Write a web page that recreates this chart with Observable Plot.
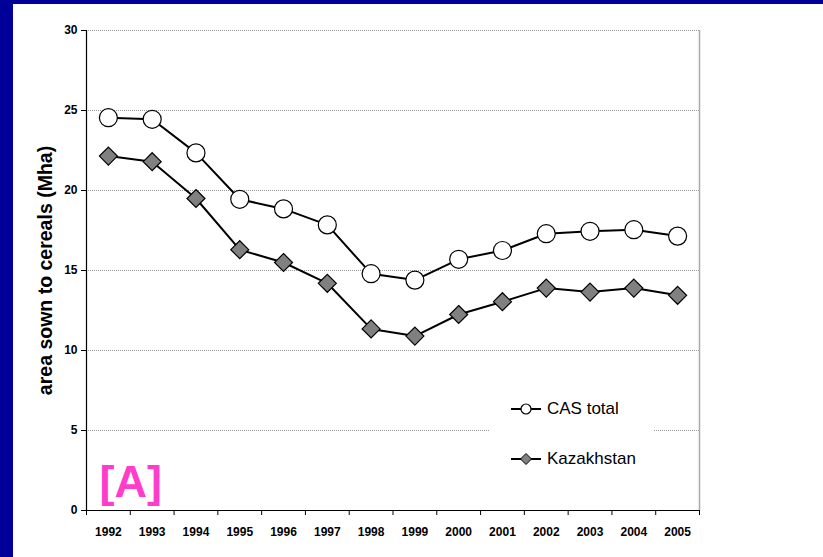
<!DOCTYPE html>
<html><head><meta charset="utf-8">
<script src="https://cdn.jsdelivr.net/npm/d3@7"></script>
<script src="https://cdn.jsdelivr.net/npm/@observablehq/plot@0.6"></script>
<style>
html,body{margin:0;padding:0;width:823px;height:557px;overflow:hidden;background:#000099;}
#wrap{position:absolute;left:13px;top:4px;width:810px;height:553px;background:#fff;}
#legend{position:absolute;left:477px;top:384px;width:164px;height:92px;background:#fff;
 font-family:"Liberation Sans Narrow","Arial Narrow","Liberation Sans",sans-serif;font-size:17px;color:#000;}
.item{position:absolute;left:21px;height:20px;display:flex;align-items:center;}
.item span{margin-left:6px;}
</style></head>
<body><div id="wrap"></div>
<script>
const years = [1992,1993,1994,1995,1996,1997,1998,1999,2000,2001,2002,2003,2004,2005];
const casTotal = [24.55,24.45,22.35,19.45,18.85,17.85,14.8,14.4,15.7,16.25,17.3,17.45,17.55,17.15];
const kazakhstan = [22.15,21.8,19.5,16.3,15.5,14.2,11.35,10.9,12.25,13.05,13.9,13.65,13.9,13.45];
const yTicks = [0,5,10,15,20,25,30];
const seriesNames = ["CAS total","Kazakhstan"];

const cas = years.map((y,i)=>({year:y, value:casTotal[i]}));
const kaz = years.map((y,i)=>({year:y, value:kazakhstan[i]}));
const bounds = years.concat([2006]).map(y=>y-0.5);
const narrow = '"Liberation Sans Narrow","Arial Narrow","Liberation Sans",sans-serif';

const chart = Plot.plot({
  width: 810, height: 553,
  marginLeft: 73, marginRight: 124, marginTop: 26, marginBottom: 47,
  style: {fontFamily: narrow, fontSize: "12px", fontWeight: "bold", background: "#fff", color: "#000"},
  x: {type: "linear", domain: [1991.5, 2005.5]},
  y: {domain: [0, 30]},
  marks: [
    Plot.ruleY(yTicks.filter(d=>d>0), {stroke: "#999", strokeDasharray: "1,1", strokeWidth: 1}),
    Plot.ruleX([2005.5], {stroke: "#aaa", strokeWidth: 1.5}),
    Plot.ruleX([1991.5], {stroke: "#000", strokeWidth: 1.2}),
    Plot.ruleY([0], {stroke: "#000", strokeWidth: 1.2}),
    Plot.axisY({ticks: yTicks, tickSize: 5, tickPadding: 4, label: null, fontSize: 12}),
    Plot.axisX({ticks: bounds, tickSize: 5, tickFormat: () => "", label: null}),
    Plot.axisX({ticks: years, tickSize: 0, tickPadding: 17, tickFormat: d => String(d), label: null, fontSize: 12}),
    Plot.line(cas, {x: "year", y: "value", stroke: "#000", strokeWidth: 2}),
    Plot.line(kaz, {x: "year", y: "value", stroke: "#000", strokeWidth: 2}),
    Plot.dot(cas, {x: "year", y: "value", r: 9, fill: "#fff", stroke: "#000", strokeWidth: 1.2}),
    Plot.dot(kaz, {x: "year", y: "value", r: 8.1, symbol: "diamond2", fill: "#808080", stroke: "#000", strokeWidth: 1.2}),
    Plot.text(["area sown to cereals (Mha)"], {frameAnchor: "left", textAnchor: "middle", lineAnchor: "middle",
      rotate: -90, dx: -41, dy: 0,
      fontFamily: '"Liberation Sans",Arial,sans-serif', fontWeight: "bold", fontSize: 19.5}),
    Plot.text(["[A]"], {frameAnchor: "bottom-left", dx: 13, dy: -14, fill: "#FF3DCB",
      fontFamily: '"Liberation Sans",Arial,sans-serif', fontWeight: "bold", fontSize: 45})
  ]
});
document.getElementById("wrap").appendChild(chart);

const leg = document.createElement("div");
leg.id = "legend";
const sym = [
  '<svg width="30" height="14"><line x1="0" y1="7" x2="30" y2="7" stroke="#000" stroke-width="2"/><circle cx="15" cy="7" r="5" fill="#fff" stroke="#000" stroke-width="1.2"/></svg>',
  '<svg width="30" height="14"><line x1="0" y1="7" x2="30" y2="7" stroke="#000" stroke-width="2"/><path d="M15,1.5L20.5,7L15,12.5L9.5,7Z" fill="#808080" stroke="#000" stroke-width="1"/></svg>'
];
seriesNames.forEach((n,i)=>{
  const d = document.createElement("div");
  d.className = "item";
  d.style.top = (i===0 ? 11 : 61) + "px";
  d.innerHTML = sym[i] + "<span>" + n + "</span>";
  leg.appendChild(d);
});
document.getElementById("wrap").appendChild(leg);
</script>
</body></html>
